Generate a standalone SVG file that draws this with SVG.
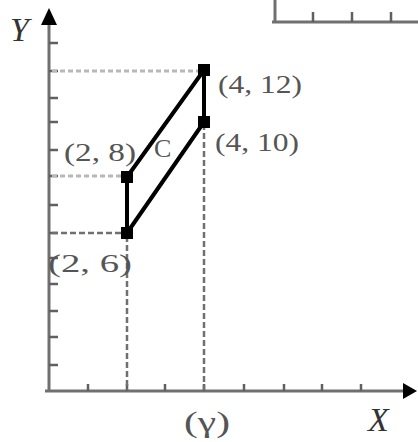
<svg xmlns="http://www.w3.org/2000/svg" width="418" height="442" viewBox="0 0 418 442">
<defs>
<style>
.axis{stroke:#707070;stroke-width:3;fill:none}
.tick{stroke:#606060;stroke-width:2.5}
.dash{stroke:#b8b8b8;stroke-width:3;stroke-dasharray:5,3;fill:none}
.dashd{stroke:#707070;stroke-width:2.5;stroke-dasharray:6,3;fill:none}
.edge{stroke:#000;stroke-width:4;fill:none;stroke-linecap:round}
.lbl{font-family:"Liberation Serif","Times New Roman",serif;fill:#555;font-size:26px}
.axl{font-family:"Liberation Serif","Times New Roman",serif;fill:#333;font-size:34px;font-style:italic}
.dot{fill:#000}
</style>
</defs>
<rect width="418" height="442" fill="#fff"/>
<g id="frame">
<path class="axis" d="M275 0V22M272 22H418"/>
<path class="tick" d="M313 12V22M352 12V22M391 12V22"/>
</g>
<g id="axes">
<path class="axis" d="M49 22V392M45 391H406"/>
<polygon points="49,8 41,25 57,25" fill="#000"/>
<polygon points="417,391 403,383 403,399" fill="#000"/>
<path class="tick" d="M49 43H58M49 71H58M49 98H58M49 122H58M49 150H58M49 176H58M49 205H58M49 233H58M49 258H58M49 284H58M49 311H58M49 337H58M49 365H58"/>
<path class="tick" d="M88 384V391M127 384V391M165 384V391M204 384V391M244 384V391M284 384V391M322 384V391M361 384V391"/>
<text class="axl" x="10" y="41">Y</text>
<text class="axl" x="368" y="431">X</text>
<text class="lbl" x="184" y="432" style="font-size:30px" textLength="46" lengthAdjust="spacingAndGlyphs">(γ)</text>
</g>
<g id="connectors">
<path class="dash" d="M52 71H203M52 176H126"/>
<path class="dashd" d="M52 233H126M127 236V390M204 124V390"/>
<path class="edge" d="M127 233V177L204 70V122Z"/>
</g>
<g id="p26"><rect class="dot" x="121" y="227" width="12" height="12"/><text class="lbl" x="48" y="272" textLength="84" lengthAdjust="spacingAndGlyphs">(2, 6)</text></g>
<g id="p28"><rect class="dot" x="121" y="171" width="12" height="12"/><text class="lbl" x="64" y="161" textLength="72" lengthAdjust="spacingAndGlyphs">(2, 8)</text></g>
<g id="p412"><rect class="dot" x="198" y="64" width="12" height="12"/><text class="lbl" x="218" y="93" textLength="84" lengthAdjust="spacingAndGlyphs">(4, 12)</text></g>
<g id="p410"><rect class="dot" x="198" y="116" width="12" height="12"/><text class="lbl" x="215" y="151" textLength="84" lengthAdjust="spacingAndGlyphs">(4, 10)</text></g>
<g id="c"><text class="lbl" x="154" y="157">C</text></g>
</svg>
